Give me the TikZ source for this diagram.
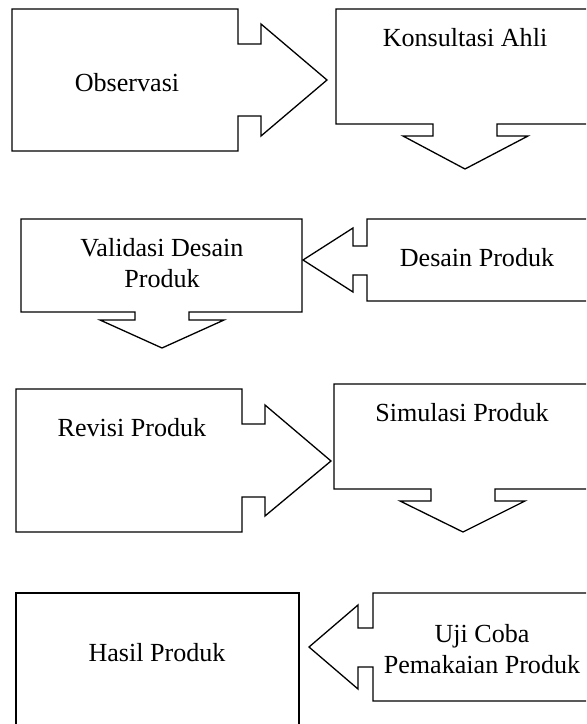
\documentclass[tikz,border=0pt]{standalone}
\usepackage{fontspec}
\setmainfont{Liberation Serif}
\begin{document}
\begin{tikzpicture}[x=0.46pt,y=-0.46pt,line width=0.6pt,every node/.style={font=\fontsize{12}{14.5}\selectfont,align=center}]
\useasboundingbox (0,0) rectangle (586,724);
\clip (0,0) rectangle (586,724);
% row 1
\draw (12,9) -- (238,9) -- (238,44) -- (261,44) -- (261,24) -- (327,80) -- (261,136) -- (261,116) -- (238,116) -- (238,151) -- (12,151) -- cycle;
\node (obs) at (127,83) {Observasi};
\draw (336,9) -- (600,9) -- (600,124) -- (497,124) -- (497,136) -- (528,136) -- (465,169) -- (403,136) -- (433,136) -- (433,124) -- (336,124) -- cycle;
\node (kons) at (465,38) {Konsultasi Ahli};
% row 2
\draw (21,219) -- (302,219) -- (302,312) -- (189,312) -- (189,320) -- (224,320) -- (162,348) -- (100,320) -- (135,320) -- (135,312) -- (21,312) -- cycle;
\node (valid) at (162,263) {Validasi Desain\\Produk};
\draw (600,219) -- (367,219) -- (367,246) -- (353,246) -- (353,228) -- (303,260) -- (353,292) -- (353,275) -- (367,275) -- (367,301) -- (600,301) -- cycle;
\node (desain) at (477,258) {Desain Produk};
% row 3
\draw (16,389) -- (242,389) -- (242,424) -- (265,424) -- (265,405) -- (331,461) -- (265,516) -- (265,497) -- (242,497) -- (242,532) -- (16,532) -- cycle;
\node (revisi) at (132,428) {Revisi Produk};
\draw (334,384) -- (600,384) -- (600,489) -- (495,489) -- (495,501) -- (525,501) -- (463,532) -- (400,501) -- (431,501) -- (431,489) -- (334,489) -- cycle;
\node (simulasi) at (462,413) {Simulasi Produk};
% row 4
\draw (16,593) rectangle (299,740);
\node (hasil) at (157,653) {Hasil Produk};
\draw (600,593) -- (373,593) -- (373,628) -- (358,628) -- (358,605) -- (309,647) -- (358,689) -- (358,667) -- (373,667) -- (373,701) -- (600,701) -- cycle;
\node (ujicoba) at (482,649) {Uji Coba\\Pemakaian Produk};
\end{tikzpicture}
\end{document}
